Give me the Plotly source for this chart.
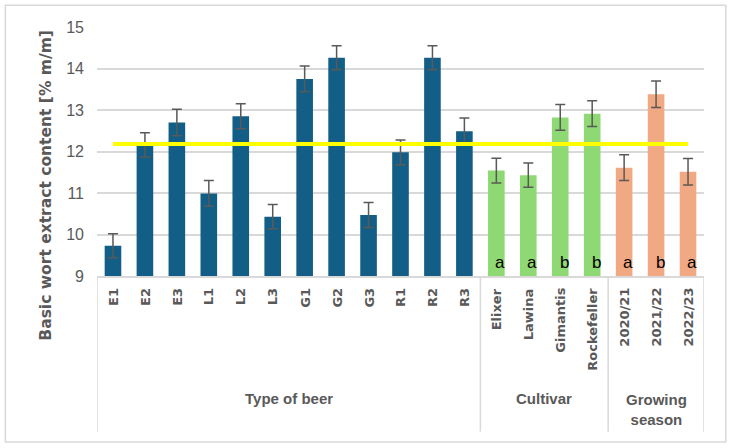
import plotly.graph_objects as go

categories = ["E1", "E2", "E3", "L1", "L2", "L3", "G1", "G2", "G3", "R1", "R2", "R3",
              "Elixer", "Lawina", "Gimantis", "Rockefeller",
              "2020/21", "2021/22", "2022/23"]
values = [9.73, 12.16, 12.70, 10.99, 12.85, 10.43, 13.75, 14.26, 10.47, 11.98, 14.26, 12.49,
          11.54, 11.43, 12.82, 12.91,
          11.61, 13.38, 11.51]
errors = [0.29, 0.29, 0.32, 0.31, 0.30, 0.29, 0.31, 0.29, 0.30, 0.30, 0.29, 0.32,
          0.30, 0.29, 0.31, 0.31,
          0.31, 0.32, 0.32]
groups = ["Type of beer"] * 12 + ["Cultivar"] * 4 + ["Growing season"] * 3
letters = [""] * 12 + ["a", "a", "b", "b"] + ["a", "b", "a"]
mean_value = 12.18
y_ticks = [9, 10, 11, 12, 13, 14, 15]

group_colors = {"Type of beer": "#135e86", "Cultivar": "#8ED973", "Growing season": "#F1A983"}
group_labels = [("Type of beer", "Type of beer"), ("Cultivar", "Cultivar"),
                ("Growing season", "Growing<br>season")]

GRAY = "#595959"
LIGHT = "#D9D9D9"

fig = go.Figure()
fig.add_trace(go.Bar(
    x=categories, y=values,
    marker=dict(color=[group_colors[g] for g in groups], line=dict(width=0)),
    error_y=dict(type="data", array=errors, visible=True, color=GRAY, thickness=1.5, width=5),
    showlegend=False,
))
fig.add_trace(go.Scatter(
    x=[categories[0], categories[-1]], y=[mean_value, mean_value],
    mode="lines", line=dict(color="#FFFF00", width=4), showlegend=False,
))

annotations = []
# category labels
for c in categories:
    annotations.append(dict(x=c, xref="x", y=0, yref="paper", text="<b>" + c + "</b>",
                            textangle=-90, yanchor="top", xanchor="center", yshift=-10,
                            showarrow=False,
                            font=dict(family="DejaVu Sans", size=13, color=GRAY)))
# significance letters
for c, l in zip(categories, letters):
    if l:
        annotations.append(dict(x=c, xref="x", y=9, yref="y", text=l, yanchor="bottom",
                                xanchor="center", xshift=4, yshift=2, showarrow=False,
                                font=dict(family="Liberation Sans", size=17, color="black")))
# group labels
for key, label in group_labels:
    idx = [i for i, g in enumerate(groups) if g == key]
    center = (idx[0] + idx[-1]) / 2
    annotations.append(dict(x=center, xref="x", y=0, yref="paper", text="<b>" + label + "</b>",
                            yanchor="middle", xanchor="center",
                            yshift=-122 if "<br>" not in label else -133,
                            showarrow=False,
                            font=dict(family="Liberation Sans", size=15, color=GRAY)))
# y title
annotations.append(dict(x=-0.084, xref="paper", y=0.363, yref="paper",
                        text="<b>Basic wort extract content [% m/m]</b>", textangle=-90,
                        xanchor="center", yanchor="middle", showarrow=False,
                        font=dict(family="DejaVu Sans", size=15.5, color=GRAY)))

shapes = []
# separators between groups
bounds = [-0.5]
for key, _ in group_labels:
    idx = [i for i, g in enumerate(groups) if g == key]
    bounds.append(idx[-1] + 0.5)
for b in bounds:
    shapes.append(dict(type="line", xref="x", yref="paper", x0=b, x1=b, y0=0, y1=-0.625,
                       line=dict(color=LIGHT, width=1.5)))
# chart border
shapes.append(dict(type="rect", xref="paper", yref="paper", x0=-0.151, x1=1.036,
                   y0=-0.667, y1=1.087, line=dict(color=LIGHT, width=1.5), layer="below"))

fig.update_layout(
    width=733, height=448,
    margin=dict(l=97, r=29, t=27, b=172),
    paper_bgcolor="white", plot_bgcolor="white",
    bargap=0.48,
    annotations=annotations, shapes=shapes,
    xaxis=dict(type="category", categoryorder="array", categoryarray=categories,
               showticklabels=False, showline=True, linecolor=LIGHT, linewidth=1.5,
               showgrid=False, range=[-0.5, len(categories) - 0.5], fixedrange=True),
    yaxis=dict(range=[9, 15], tickvals=y_ticks, showgrid=True, gridcolor=LIGHT, gridwidth=1.5,
               zeroline=False, showline=False, ticklabelstandoff=12,
               tickfont=dict(family="Liberation Sans", size=16, color=GRAY)),
)

fig.write_html("out.html")
